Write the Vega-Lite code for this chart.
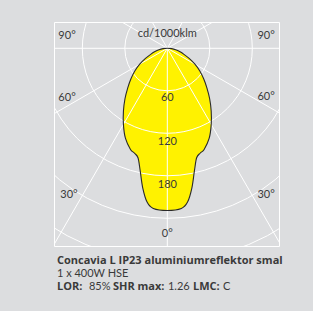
{
  "$schema": "https://vega.github.io/schema/vega-lite/v6.json",
  "width": 225,
  "height": 224,
  "autosize": {"type": "none"},
  "padding": {"left": 54, "top": 22, "right": 34, "bottom": 65},
  "background": "#dcdddf",
  "config": {
    "view": {"stroke": "#ffffff", "strokeWidth": 1, "fill": "#dcdddf"},
    "text": {"font": "Lato", "fontSize": 11, "color": "#3a3a3a"}
  },
  "datasets": {
    "intensity": [
      {"g": -85, "cd": 6}, {"g": -80, "cd": 12}, {"g": -75, "cd": 18}, {"g": -70, "cd": 25},
      {"g": -65, "cd": 34}, {"g": -60, "cd": 45}, {"g": -55, "cd": 56}, {"g": -50, "cd": 67},
      {"g": -45, "cd": 79}, {"g": -40, "cd": 93}, {"g": -35, "cd": 108}, {"g": -30, "cd": 124},
      {"g": -25, "cd": 140}, {"g": -20, "cd": 152}, {"g": -17.5, "cd": 155}, {"g": -15, "cd": 160},
      {"g": -12.5, "cd": 177}, {"g": -10, "cd": 200}, {"g": -7.5, "cd": 219}, {"g": -5, "cd": 227},
      {"g": 0, "cd": 229},
      {"g": 5, "cd": 227}, {"g": 7.5, "cd": 219}, {"g": 10, "cd": 200}, {"g": 12.5, "cd": 177},
      {"g": 15, "cd": 160}, {"g": 17.5, "cd": 155}, {"g": 20, "cd": 152}, {"g": 25, "cd": 140},
      {"g": 30, "cd": 124}, {"g": 35, "cd": 108}, {"g": 40, "cd": 93}, {"g": 45, "cd": 79},
      {"g": 50, "cd": 67}, {"g": 55, "cd": 56}, {"g": 60, "cd": 45}, {"g": 65, "cd": 34},
      {"g": 70, "cd": 25}, {"g": 75, "cd": 18}, {"g": 80, "cd": 12}, {"g": 85, "cd": 6},
      {"g": 90, "cd": 0}
    ],
    "rings": [{"r": 60}, {"r": 120}, {"r": 180}, {"r": 240}, {"r": 300}],
    "spokes": [
      {"a": 0}, {"a": 30}, {"a": -30}, {"a": 60}, {"a": -60}, {"a": 90}, {"a": -90},
      {"a": 120}, {"a": -120}, {"a": 150}, {"a": -150}
    ],
    "labels": [
      {"label": "90°", "x": -141.6, "y": 17.4},
      {"label": "90°", "x": 139.4, "y": 17.4},
      {"label": "60°", "x": -141.6, "y": -70.2},
      {"label": "60°", "x": 139.4, "y": -68.5},
      {"label": "30°", "x": -138.8, "y": -207},
      {"label": "30°", "x": 139.4, "y": -207},
      {"label": "0°", "x": 0, "y": -262},
      {"label": "cd/1000klm", "x": 0, "y": 20.2},
      {"label": "60", "x": 0, "y": -70.2},
      {"label": "120", "x": 0, "y": -132.4},
      {"label": "180", "x": 0, "y": -193.3}
    ],
    "info": [
      {"name": "Concavia L IP23 aluminiumreflektor smal", "lamp": "1 x 400W HSE", "lor": "85%", "shr": "1.26", "lmc": "C"}
    ]
  },
  "layer": [
    {
      "data": {"name": "intensity"},
      "transform": [
        {"calculate": "datum.cd * sin(datum.g * PI / 180)", "as": "x"},
        {"calculate": "-datum.cd * cos(datum.g * PI / 180)", "as": "y"}
      ],
      "mark": {"type": "line", "interpolate": "cardinal-closed", "fill": "#fff200", "stroke": "#fff200", "strokeWidth": 0},
      "encoding": {
        "x": {"field": "x", "type": "quantitative", "scale": {"domain": [-160, 157.7], "nice": false, "zero": false}, "axis": null},
        "y": {"field": "y", "type": "quantitative", "scale": {"domain": [-279.1, 37.1], "nice": false, "zero": false}, "axis": null},
        "order": {"field": "g", "type": "quantitative"}
      }
    },
    {
      "data": {"name": "rings"},
      "transform": [
        {"calculate": "0", "as": "cx"},
        {"calculate": "0", "as": "cy"}
      ],
      "mark": {"type": "point", "shape": "circle", "filled": false, "stroke": "#ffffff", "strokeWidth": 1, "opacity": 1, "clip": true},
      "encoding": {
        "x": {"field": "cx", "type": "quantitative", "scale": {"domain": [-160, 157.7], "nice": false, "zero": false}, "axis": null},
        "y": {"field": "cy", "type": "quantitative", "scale": {"domain": [-279.1, 37.1], "nice": false, "zero": false}, "axis": null},
        "size": {"field": "r", "type": "quantitative", "scale": {"type": "pow", "exponent": 2, "domain": [0, 300], "range": [0, 180608]}, "legend": null}
      }
    },
    {
      "data": {"name": "spokes"},
      "transform": [
        {"calculate": "0", "as": "ox"},
        {"calculate": "0", "as": "oy"},
        {"calculate": "500 * sin(datum.a * PI / 180)", "as": "ex"},
        {"calculate": "-500 * cos(datum.a * PI / 180)", "as": "ey"}
      ],
      "mark": {"type": "rule", "color": "#ffffff", "strokeWidth": 1, "clip": true},
      "encoding": {
        "x": {"field": "ox", "type": "quantitative", "scale": {"domain": [-160, 157.7], "nice": false, "zero": false}, "axis": null},
        "y": {"field": "oy", "type": "quantitative", "scale": {"domain": [-279.1, 37.1], "nice": false, "zero": false}, "axis": null},
        "x2": {"field": "ex"},
        "y2": {"field": "ey"}
      }
    },
    {
      "data": {"name": "intensity"},
      "transform": [
        {"calculate": "datum.cd * sin(datum.g * PI / 180)", "as": "x"},
        {"calculate": "-datum.cd * cos(datum.g * PI / 180)", "as": "y"}
      ],
      "mark": {"type": "line", "interpolate": "cardinal-closed", "stroke": "#2a2a2a", "strokeWidth": 1.1},
      "encoding": {
        "x": {"field": "x", "type": "quantitative", "scale": {"domain": [-160, 157.7], "nice": false, "zero": false}, "axis": null},
        "y": {"field": "y", "type": "quantitative", "scale": {"domain": [-279.1, 37.1], "nice": false, "zero": false}, "axis": null},
        "order": {"field": "g", "type": "quantitative"}
      }
    },
    {
      "data": {"name": "labels"},
      "mark": {"type": "text", "align": "center", "baseline": "middle"},
      "encoding": {
        "x": {"field": "x", "type": "quantitative", "scale": {"domain": [-160, 157.7], "nice": false, "zero": false}, "axis": null},
        "y": {"field": "y", "type": "quantitative", "scale": {"domain": [-279.1, 37.1], "nice": false, "zero": false}, "axis": null},
        "text": {"field": "label"}
      }
    },
    {
      "data": {"name": "info"},
      "layer": [
        {"mark": {"type": "text", "align": "left", "baseline": "middle", "fontWeight": "bold", "font": "Open Sans"},
         "encoding": {"x": {"datum": -155.8, "type": "quantitative"}, "y": {"datum": -300.3, "type": "quantitative"}, "text": {"field": "name"}}},
        {"mark": {"type": "text", "align": "left", "baseline": "middle"},
         "encoding": {"x": {"datum": -155.8, "type": "quantitative"}, "y": {"datum": -318.6, "type": "quantitative"}, "text": {"field": "lamp"}}},
        {"mark": {"type": "text", "align": "left", "baseline": "middle", "fontWeight": "bold", "font": "Open Sans", "text": "LOR:"},
         "encoding": {"x": {"datum": -155.8, "type": "quantitative"}, "y": {"datum": -337, "type": "quantitative"}}},
        {"mark": {"type": "text", "align": "left", "baseline": "middle", "dx": 32},
         "encoding": {"x": {"datum": -155.8, "type": "quantitative"}, "y": {"datum": -337, "type": "quantitative"}, "text": {"field": "lor"}}},
        {"mark": {"type": "text", "align": "left", "baseline": "middle", "fontWeight": "bold", "font": "Open Sans", "dx": 56, "text": "SHR max:"},
         "encoding": {"x": {"datum": -155.8, "type": "quantitative"}, "y": {"datum": -337, "type": "quantitative"}}},
        {"mark": {"type": "text", "align": "left", "baseline": "middle", "dx": 111},
         "encoding": {"x": {"datum": -155.8, "type": "quantitative"}, "y": {"datum": -337, "type": "quantitative"}, "text": {"field": "shr"}}},
        {"mark": {"type": "text", "align": "left", "baseline": "middle", "fontWeight": "bold", "font": "Open Sans", "dx": 136, "text": "LMC:"},
         "encoding": {"x": {"datum": -155.8, "type": "quantitative"}, "y": {"datum": -337, "type": "quantitative"}}},
        {"mark": {"type": "text", "align": "left", "baseline": "middle", "dx": 166},
         "encoding": {"x": {"datum": -155.8, "type": "quantitative"}, "y": {"datum": -337, "type": "quantitative"}, "text": {"field": "lmc"}}}
      ]
    }
  ]
}
